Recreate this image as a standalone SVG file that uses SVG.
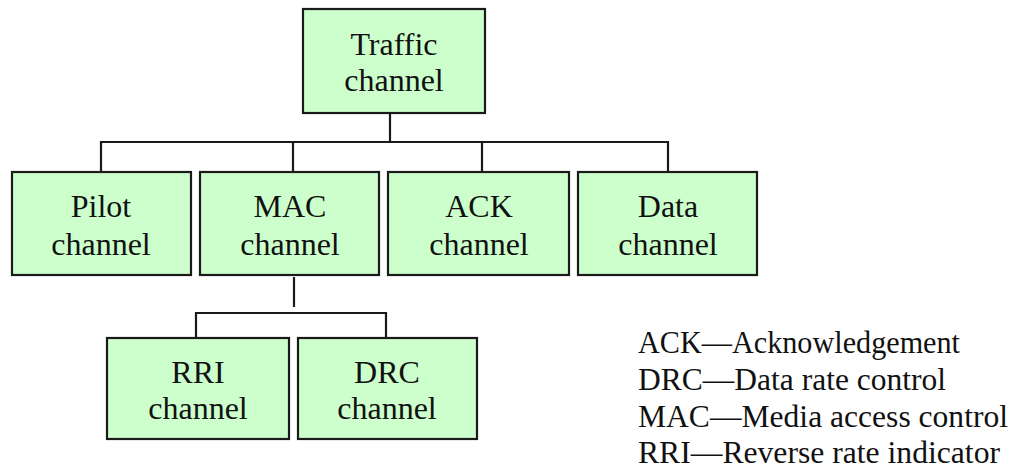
<svg xmlns="http://www.w3.org/2000/svg" width="1014" height="468" viewBox="0 0 1014 468">
<style>
.box{fill:#CCFFCC;stroke:#1a1a1a;stroke-width:2.2}
.t{font-family:"Liberation Serif","Times New Roman",serif;font-size:32px;fill:#111;text-anchor:middle}
.l{font-family:"Liberation Serif","Times New Roman",serif;font-size:32px;fill:#111}
.c{fill:none;stroke:#1a1a1a;stroke-width:2.2}
</style>
<rect width="1014" height="468" fill="#fff"/>
<g id="connectors">
<path class="c" d="M390 113V142M101 172V142H668V172M293 142V172M482 142V172"/>
<path class="c" d="M294 277V307"/>
<path class="c" d="M196 338V313H386V338"/>
</g>
<g id="traffic"><rect class="box" x="303" y="9" width="182" height="104"/><text class="t" x="394" y="55">Traffic</text><text class="t" x="394" y="91">channel</text></g>
<g id="pilot"><rect class="box" x="12" y="172" width="179" height="103"/><text class="t" x="101" y="217">Pilot</text><text class="t" x="101" y="255">channel</text></g>
<g id="mac"><rect class="box" x="200" y="172" width="179" height="103"/><text class="t" x="290" y="217">MAC</text><text class="t" x="290" y="255">channel</text></g>
<g id="ack"><rect class="box" x="388" y="172" width="181" height="103"/><text class="t" x="479" y="217">ACK</text><text class="t" x="479" y="255">channel</text></g>
<g id="data"><rect class="box" x="578" y="172" width="179" height="103"/><text class="t" x="668" y="217">Data</text><text class="t" x="668" y="255">channel</text></g>
<g id="rri"><rect class="box" x="107" y="338" width="182" height="101"/><text class="t" x="198" y="383">RRI</text><text class="t" x="198" y="419">channel</text></g>
<g id="drc"><rect class="box" x="298" y="338" width="179" height="101"/><text class="t" x="387" y="383">DRC</text><text class="t" x="387" y="419">channel</text></g>
<g id="legend">
<text class="l" x="638" y="353" textLength="322" lengthAdjust="spacingAndGlyphs">ACK—Acknowledgement</text>
<text class="l" x="638" y="390" textLength="308" lengthAdjust="spacingAndGlyphs">DRC—Data rate control</text>
<text class="l" x="638" y="427" textLength="370" lengthAdjust="spacingAndGlyphs">MAC—Media access control</text>
<text class="l" x="638" y="463" textLength="362" lengthAdjust="spacingAndGlyphs">RRI—Reverse rate indicator</text>
</g>
</svg>
